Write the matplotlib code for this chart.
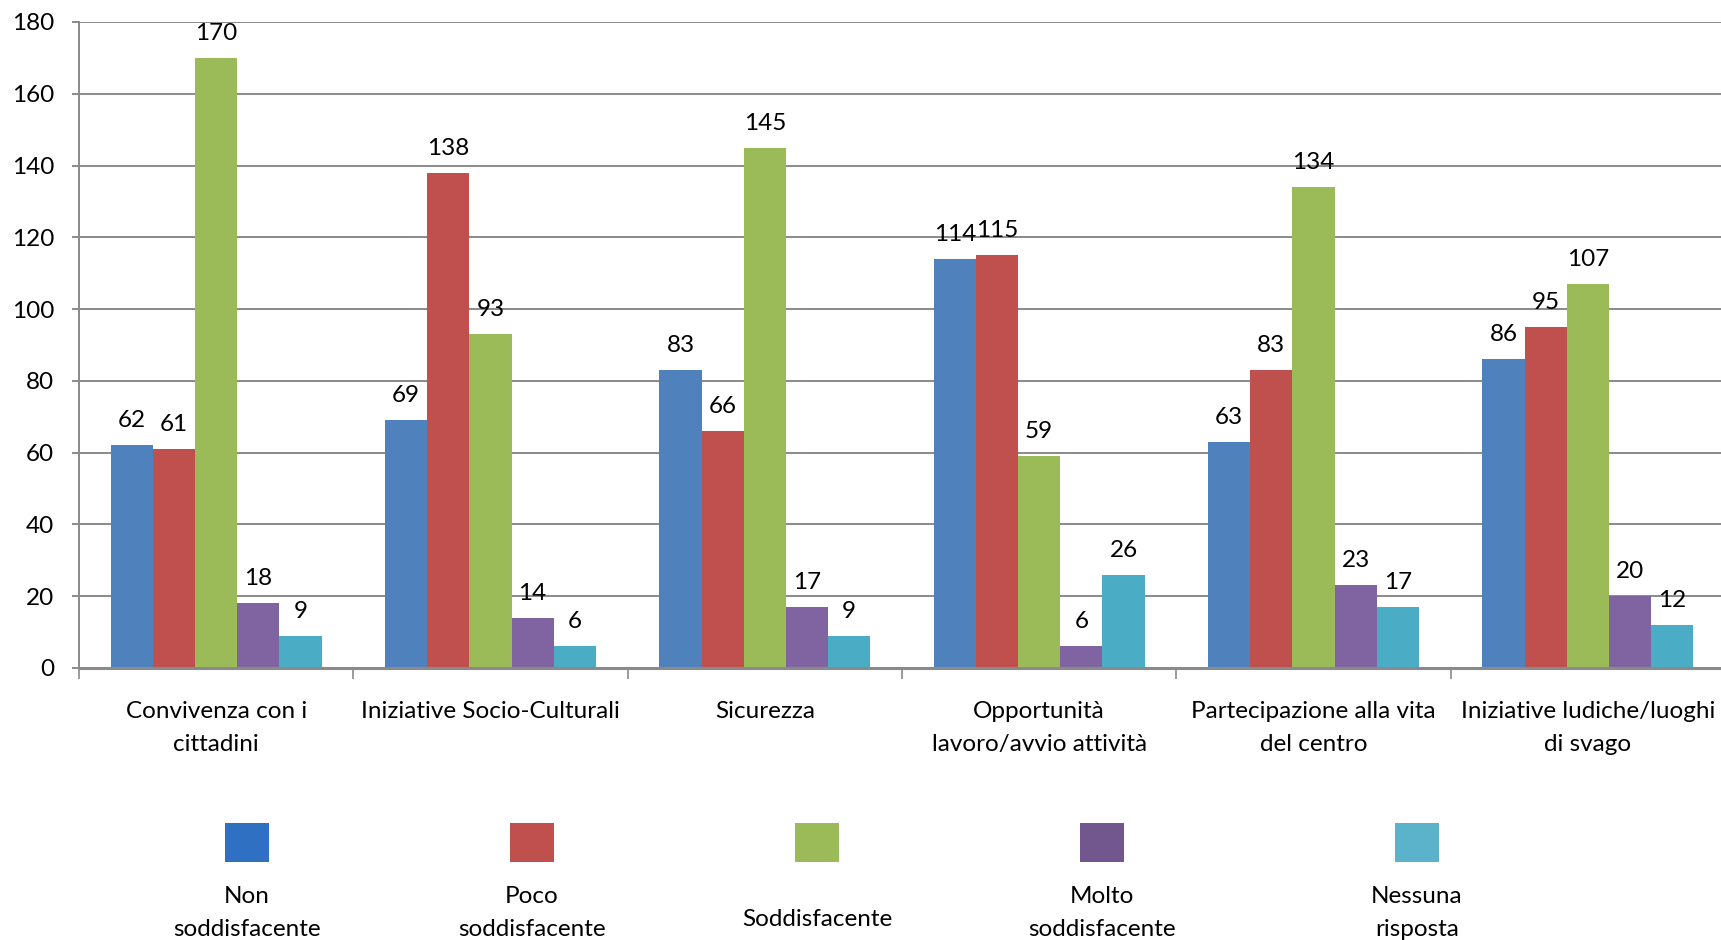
import numpy as np
import matplotlib.pyplot as plt
from matplotlib.patches import Rectangle

plt.rcParams['font.family'] = ['Lato', 'DejaVu Sans']

categorie = ['Convivenza con i\ncittadini', 'Iniziative Socio-Culturali', 'Sicurezza',
             'Opportunità\nlavoro/avvio attività', 'Partecipazione alla vita\ndel centro',
             'Iniziative ludiche/luoghi\ndi svago']
serie = ['Non\nsoddisfacente', 'Poco\nsoddisfacente', 'Soddisfacente',
         'Molto\nsoddisfacente', 'Nessuna\nrisposta']
non_sodd = [62, 69, 83, 114, 63, 86]
poco_sodd = [61, 138, 66, 115, 83, 95]
sodd = [170, 93, 145, 59, 134, 107]
molto_sodd = [18, 14, 17, 6, 23, 20]
nessuna = [9, 6, 9, 26, 17, 12]
valori = [non_sodd, poco_sodd, sodd, molto_sodd, nessuna]

colori = ['#4F81BD', '#C0504D', '#9BBB59', '#8064A2', '#4BACC6']
colori_leg = ['#2F70C3', '#C0504D', '#9BBB59', '#72578F', '#5AB2CB']

fs = 17.5
W, H = 1721, 940
fig = plt.figure(figsize=(W / 100, H / 100), dpi=100)
ax = fig.add_axes([79 / W, 1 - 668 / H, (1725 - 79) / W, (668 - 22) / H])

x = np.arange(len(categorie))
w = 0.1536
for j, (v, c) in enumerate(zip(valori, colori)):
    pos = x + (j - 2) * w
    ax.bar(pos, v, width=w, color=c, linewidth=0, zorder=3)
    for px, val in zip(pos, v):
        ax.annotate(str(val), (px, val), xytext=(0, 13), textcoords='offset points',
                    ha='center', va='baseline', fontsize=fs)

ax.set_xlim(-0.5, 5.5)
ax.set_ylim(0, 180)
ax.set_yticks(range(0, 181, 20))
ax.grid(axis='y', color='#8A8A8A', linewidth=1.4, zorder=0)
ax.set_xticks(np.arange(-0.5, 6, 1))
ax.set_xticklabels([])
ax.set_xticks(x, minor=True)
ax.set_xticklabels(categorie, minor=True)
for lab in ax.get_xticklabels(minor=True):
    lab.set_linespacing(1.72)
ax.tick_params(axis='x', which='major', length=8, width=1.2, color='#8A8A8A', direction='out')
ax.tick_params(axis='x', which='minor', length=0, pad=23.5, labelsize=fs)
ax.tick_params(axis='y', length=5, width=1.4, color='#8A8A8A', pad=13, labelsize=fs)
for s in ['top', 'right']:
    ax.spines[s].set_visible(False)
ax.spines['left'].set_color('#8A8A8A')
ax.spines['left'].set_linewidth(1.4)
ax.spines['bottom'].set_color('#8A8A8A')
ax.spines['bottom'].set_linewidth(2.2)
ax.spines['bottom'].set_zorder(4)

# legenda
leg_x = [247, 532, 817, 1102, 1417]
for cx, lab, c in zip(leg_x, serie, colori_leg):
    fig.add_artist(Rectangle(((cx - 22) / W, 1 - 862 / H), 44 / W, 39 / H,
                             transform=fig.transFigure, color=c, linewidth=0))
    ty = 913 if '\n' in lab else 919
    fig.text(cx / W, 1 - ty / H, lab, ha='center', va='center', fontsize=fs,
             linespacing=1.72)

fig.savefig('out.png', dpi=100)
